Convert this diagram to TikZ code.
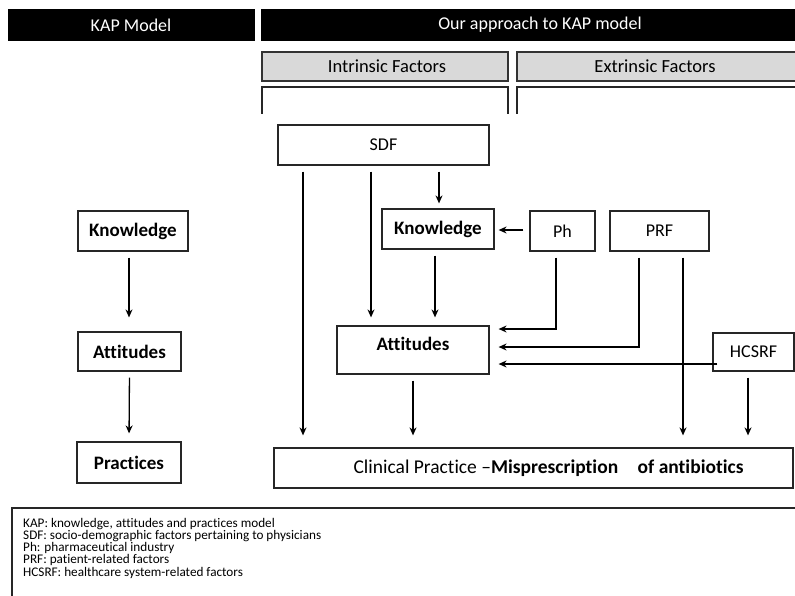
\documentclass[tikz,border=0pt]{standalone}
\usepackage{fontspec}
\setmainfont{Carlito}[Ligatures=NoCommon]
\usetikzlibrary{arrows.meta}
\tikzset{>={Stealth[length=8pt,width=7pt]}}
\tikzset{
  box/.style={draw=black!85, line width=1.2pt, minimum width=#1, inner sep=0pt, font=\fontsize{18}{20}\selectfont},
  bbox/.style={box=#1, font=\fontsize{19}{20}\selectfont\bfseries},
  bar/.style={fill=black, text=white, font=\fontsize{18}{20}\selectfont},
  greybox/.style={draw=black!80, line width=1.2pt, fill=black!15},
  arr/.style={->, line width=1.3pt, shorten <=6pt, shorten >=8pt}
}
\begin{document}
\begin{tikzpicture}[x=1pt, y=-1pt]
    \useasboundingbox (0,0) rectangle (795,596);
    % headers
    \fill[black] (8,9) rectangle (255,41);
    \fill[black] (261,9) rectangle (800,41);
    \node[bar] (kaphead) at (131,25) {KAP Model};
    \node[bar] (ourhead) at (540,25) {Our approach to KAP model};
    \draw[greybox] (262,52) rectangle (508,81);
    \draw[greybox] (517,52) rectangle (805,81);
    \node[font=\fontsize{18.5}{20}\selectfont] (intr) at (387,66.5) {Intrinsic Factors};
    \node[font=\fontsize{18.5}{20}\selectfont] (extr) at (655,66.5) {Extrinsic Factors};
    \draw[line width=1.2pt, black!85] (262,114) -- (262,87) -- (508,87) -- (508,114);
    \draw[line width=1.2pt, black!85] (517,114) -- (517,87) -- (805,87);
    % KAP model
    \node[bbox=110pt, minimum height=40pt] (know) at (133,231) {Knowledge\hspace{10pt}};
    \node[bbox=103pt, minimum height=39pt] (att) at (129.5,351.5) {Attitudes\hspace{6pt}};
    \node[bbox=104pt, minimum height=41pt] (prac) at (129,462.5) {Practices\hspace{6pt}};
    \draw[arr, shorten >=14pt] ([xshift=-4pt]know.south) -- ([xshift=-4pt]know.south |- att.north);
    \draw[arr] (att.south) -- (prac.north);
    % our approach
    \node[box=211pt, minimum height=40pt] (sdf) at (383.5,145) {SDF};
    \node[bbox=112pt, minimum height=40pt] (know2) at (438,229) {Knowledge\hspace{6pt}};
    \node[box=65pt, minimum height=40pt] (ph) at (562.5,231) {Ph};
    \node[box=99pt, minimum height=40pt] (prf) at (659.5,231) {PRF};
    \node[box=81pt, minimum height=38pt] (hcsrf) at (753.5,352) {HCSRF};
    \node[bbox=152pt, minimum height=48pt, text depth=12pt] (att2) at (413,350) {Attitudes};
    \node[box=519pt, minimum height=40pt, font=\fontsize{19.5}{20}\selectfont] (clin) at (533.5,468)
        {\hspace{30pt}Clinical Practice --\textbf{Misprescription\quad of antibiotics}};
    \draw[arr, shorten >=12pt] ([xshift=-80.5pt]sdf.south) -- ([xshift=-80.5pt]sdf.south |- clin.north);
    \draw[arr] ([xshift=-12.5pt]sdf.south) -- ([xshift=-12.5pt]sdf.south |- att2.north);
    \draw[arr, shorten >=5pt] ([xshift=55.5pt]sdf.south) -- ([xshift=55.5pt]sdf.south |- know2.north);
    \draw[arr] ([xshift=-3pt]know2.south) -- ([xshift=-3pt]know2.south |- att2.north);
    \draw[arr, shorten <=6pt, shorten >=4pt] ([yshift=1pt]ph.west) -- ([yshift=1pt]ph.west -| know2.east);
    \draw[arr, shorten >=9pt] ([xshift=-6.5pt]ph.south) |- ([yshift=21pt]att2.east);
    \draw[arr, shorten >=9pt] ([xshift=-20.5pt]prf.south) |- ([yshift=3pt]att2.east);
    \draw[arr, shorten <=-5pt, shorten >=9pt] ([yshift=-12pt]hcsrf.west) -- ([yshift=-12pt]hcsrf.west -| att2.east);
    \draw[arr, shorten >=12pt] ([xshift=23.5pt]prf.south) -- ([xshift=23.5pt]prf.south |- clin.north);
    \draw[arr, shorten >=12pt] ([xshift=-5.5pt]hcsrf.south) -- ([xshift=-5.5pt]hcsrf.south |- clin.north);
    \draw[arr, shorten >=12pt] (att2.south) -- (att2.south |- clin.north);
    % legend
    \draw[line width=1.2pt, black!85] (12,605) -- (12,508) -- (805,508);
    \node[anchor=north west, align=left, inner sep=0pt, font=\fontsize{13.2}{12.2}\selectfont] (legend) at (23,518)
        {KAP: knowledge, attitudes and practices model\\
         SDF: socio-demographic factors pertaining to physicians\\
         Ph: pharmaceutical industry\\
         PRF: patient-related factors\\
         HCSRF: healthcare system-related factors};
\end{tikzpicture}
\end{document}
